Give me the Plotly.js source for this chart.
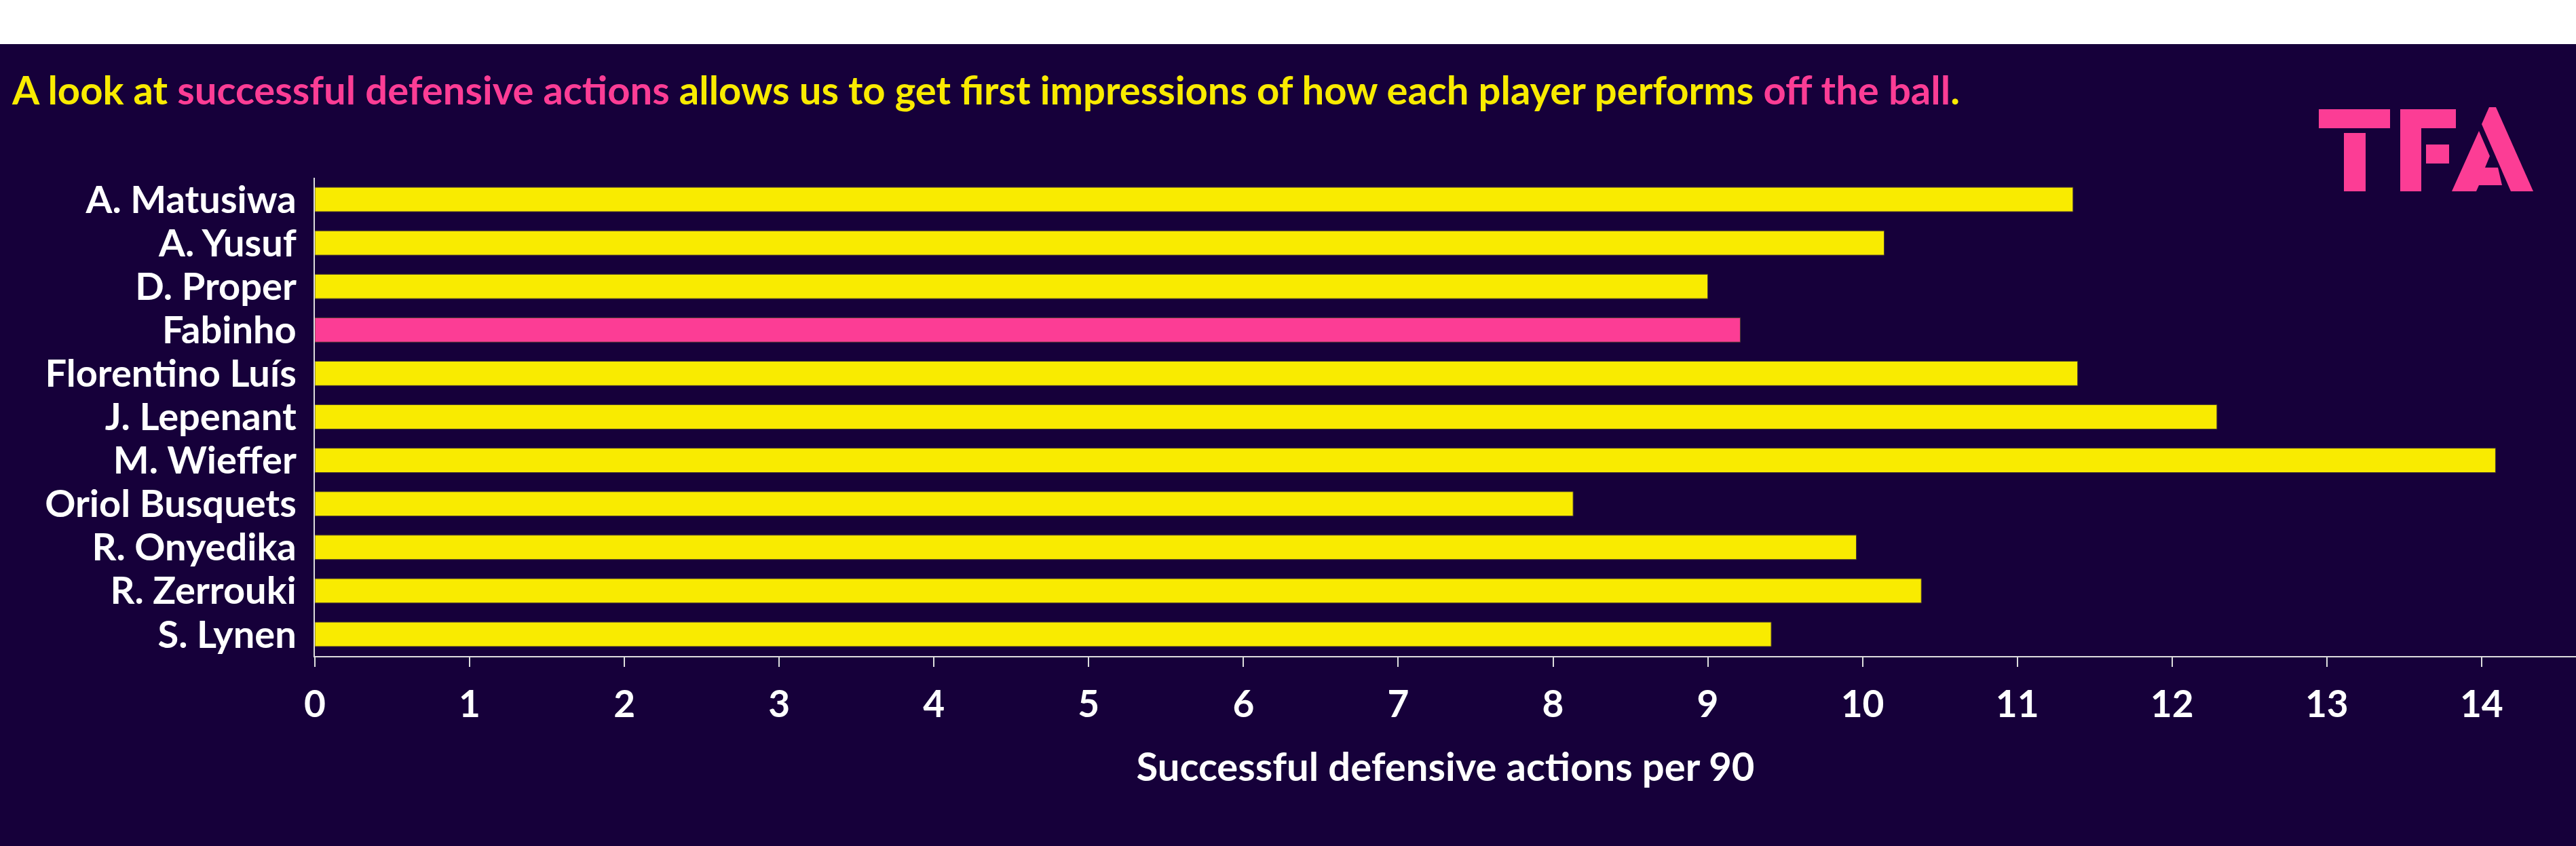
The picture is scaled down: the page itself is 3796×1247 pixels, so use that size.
<!DOCTYPE html>
<html>
<head>
<meta charset="utf-8">
<script src="https://cdn.plot.ly/plotly-3.0.1.min.js"></script>
<style>
  html, body { margin: 0; padding: 0; background: #ffffff; }
  #chart { width: 3796px; height: 1247px; }
</style>
</head>
<body>
<div id="chart"></div>
<script>
// players, top to bottom
var players = ['A. Matusiwa', 'A. Yusuf', 'D. Proper', 'Fabinho', 'Florentino Luís',
    'J. Lepenant', 'M. Wieffer', 'Oriol Busquets', 'R. Onyedika', 'R. Zerrouki', 'S. Lynen'];
var actions = [11.36, 10.14, 9.00, 9.21, 11.39, 12.29, 14.09, 8.13, 9.96, 10.38, 9.41];
var highlighted = 'Fabinho';
var xTicks = [0, 1, 2, 3, 4, 5, 6, 7, 8, 9, 10, 11, 12, 13, 14];

var bg = '#16003a';
var yellow = '#f9eb00';
var pink = '#fc3d95';
var font = 'Lato, "Open Sans", sans-serif';

var W = 3796, H = 1247;
var plotL = 464, plotR = 3796, plotT = 262, plotB = 967;

// pixel -> paper coords, used for the white band and the logo
function px(x) { return (x - plotL) / (plotR - plotL); }
function py(y) { return (plotB - y) / (plotB - plotT); }
function poly(pts) {
    return pts.map(function (p, i) {
        return (i ? 'L' : 'M') + px(p[0]).toFixed(5) + ',' + py(p[1]).toFixed(5);
    }).join(' ') + ' Z';
}

var logo = [
    [[3417, 161], [3522, 161], [3522, 189], [3417, 189]],
    [[3454, 196], [3486, 196], [3486, 282], [3454, 282]],
    [[3537, 161], [3619, 161], [3619, 189], [3568, 189], [3568, 282], [3537, 282]],
    [[3575, 213], [3609, 213], [3609, 241], [3575, 241]],
    [[3668, 158], [3678, 158], [3733, 282], [3700, 282], [3657, 183]],
    [[3653, 193], [3669, 230], [3662, 247], [3681, 247], [3687, 273], [3653, 273], [3649, 282], [3613, 282]]
];

var shapes = [{
    type: 'rect', xref: 'paper', yref: 'paper',
    x0: px(-20), x1: px(3820), y0: py(65), y1: py(-20),
    fillcolor: '#ffffff', line: {width: 0}
}];
logo.forEach(function (pts) {
    shapes.push({type: 'path', xref: 'paper', yref: 'paper', path: poly(pts),
        fillcolor: pink, line: {width: 0}});
});

var colors = players.map(function (p) { return p === highlighted ? pink : yellow; });

var data = [{
    type: 'bar',
    orientation: 'h',
    x: actions,
    y: players,
    width: 0.56,
    marker: {color: colors, line: {color: '#4a3a30', width: 1}},
    hoverinfo: 'x+y'
}];

var titleText = '<span style="color:' + yellow + '">A look at </span>' +
    '<span style="color:' + pink + '">successful defensive actions</span>' +
    '<span style="color:' + yellow + '"> allows us to get first impressions of how each player performs </span>' +
    '<span style="color:' + pink + '">off the ball</span>' +
    '<span style="color:' + yellow + '">.</span>';

var layout = {
    width: W,
    height: H,
    paper_bgcolor: bg,
    plot_bgcolor: bg,
    margin: {l: plotL, r: W - plotR, t: plotT, b: H - plotB, pad: 0},
    showlegend: false,
    font: {family: font, color: '#ffffff', size: 55, weight: 700},
    title: {
        text: titleText,
        xref: 'container', yref: 'container',
        x: 18 / W, xanchor: 'left',
        y: 1 - 134 / H, yanchor: 'middle',
        font: {family: font, size: 58, weight: 700, color: yellow}
    },
    xaxis: {
        range: [0, 14.61],
        tickvals: xTicks,
        ticktext: xTicks.map(String),
        ticks: 'outside', ticklen: 14, tickwidth: 2, tickcolor: '#dddddd',
        showline: true, linecolor: '#dddddd', linewidth: 2,
        showgrid: false, zeroline: false,
        ticklabelstandoff: 8,
        tickfont: {family: font, size: 55, weight: 700, color: '#ffffff'},
        title: {
            text: 'Successful defensive actions per 90',
            standoff: 42,
            font: {family: font, size: 58, weight: 700, color: '#ffffff'}
        }
    },
    yaxis: {
        type: 'category',
        categoryorder: 'array',
        categoryarray: players,
        autorange: 'reversed',
        tickmode: 'array',
        tickvals: players,
        ticktext: players,
        ticks: '',
        showline: true, linecolor: '#dddddd', linewidth: 2,
        showgrid: false, zeroline: false,
        ticklabelstandoff: 14,
        tickfont: {family: font, size: 56, weight: 700, color: '#ffffff'}
    },
    shapes: shapes
};

Plotly.newPlot('chart', data, layout, {displayModeBar: false, staticPlot: true});
</script>
</body>
</html>
